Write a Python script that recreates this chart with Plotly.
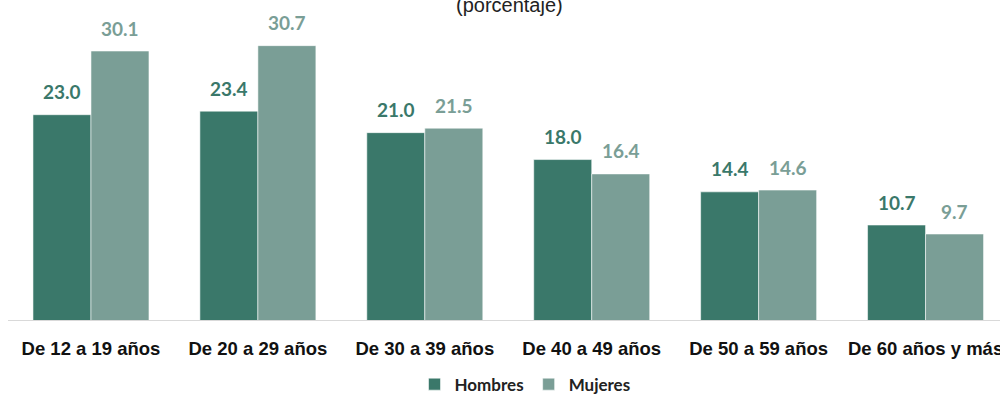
import plotly.graph_objects as go

categories = ["De 12 a 19 años", "De 20 a 29 años", "De 30 a 39 años",
              "De 40 a 49 años", "De 50 a 59 años", "De 60 años y más"]
hombres = [23.0, 23.4, 21.0, 18.0, 14.4, 10.7]
mujeres = [30.1, 30.7, 21.5, 16.4, 14.6, 9.7]

c_h = "#3a786a"
c_m = "#7a9e96"

fig = go.Figure()
fig.add_trace(go.Bar(name="Hombres", x=categories, y=hombres, marker_color=c_h,
                     marker_line=dict(color="rgba(255,255,255,0.55)", width=1)))
fig.add_trace(go.Bar(name="Mujeres", x=categories, y=mujeres, marker_color=c_m,
                     marker_line=dict(color="rgba(255,255,255,0.55)", width=1)))

ann = []
for cat, v in zip(categories, hombres):
    ann.append(dict(x=cat, y=v, xref="x", yref="y", text=f"{v:.1f}", showarrow=False,
                    xshift=-29, yshift=23, yanchor="middle",
                    font=dict(family="Lato, Liberation Sans", size=19, color=c_h, weight="bold")))
for cat, v in zip(categories, mujeres):
    ann.append(dict(x=cat, y=v, xref="x", yref="y", text=f"{v:.1f}", showarrow=False,
                    xshift=29, yshift=23, yanchor="middle",
                    font=dict(family="Lato, Liberation Sans", size=19, color=c_m, weight="bold")))
ann.append(dict(x=0.5095, y=1, xref="paper", yref="paper", text="(porcentaje)", showarrow=False,
                yanchor="top", yshift=8,
                font=dict(family="Liberation Sans, Arial", size=20, color="#222222")))

fig.update_layout(
    width=1000, height=394,
    margin=dict(l=0, r=0, t=0, b=73, autoexpand=False),
    paper_bgcolor="white", plot_bgcolor="white",
    barmode="group", bargap=0.305, bargroupgap=0,
    showlegend=True,
    legend=dict(orientation="h", x=0.525, xanchor="center", y=-0.142, yanchor="top",
                font=dict(family="Lato, Liberation Sans", size=17, color="#222222", weight="bold"),
                itemwidth=30, tracegroupgap=0),
    annotations=ann,
    shapes=[dict(type="line", xref="paper", yref="y", x0=0.008, x1=1, y0=0, y1=0,
                 line=dict(color="#d9d9d9", width=2))],
    xaxis=dict(range=[-0.545, 5.446], showline=False, showgrid=False, zeroline=False,
               automargin=False, tickangle=0,
               ticks="", ticklabelstandoff=14,
               tickfont=dict(family="Liberation Sans, Arial", size=18.5,
                             color="#111111", weight="bold")),
    yaxis=dict(range=[0, 35.79], visible=False, showgrid=False, zeroline=False, automargin=False),
)

fig.write_html("out.html")
